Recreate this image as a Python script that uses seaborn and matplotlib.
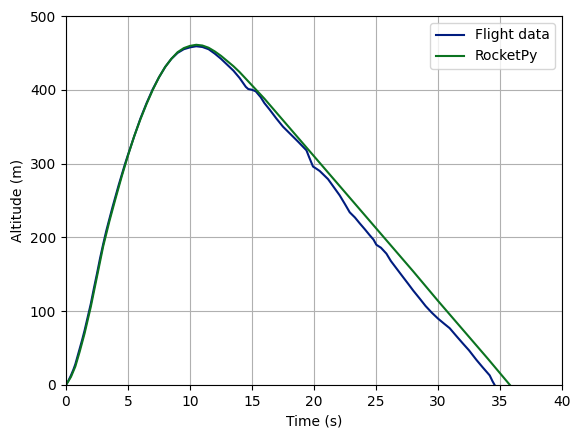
import matplotlib
matplotlib.use("Agg")
import matplotlib.pyplot as plt
import seaborn as sns
import pandas as pd

# Flight data
flight_time = [0, 0.2, 0.4, 0.6, 0.75, 0.9, 1.1, 1.3, 1.5, 1.75, 2.0, 2.25, 2.5, 2.75, 3.0,
               3.25, 3.5, 3.75, 4.0, 4.25, 4.5, 4.75, 5.0, 5.5, 6.0, 6.5, 7.0, 7.5, 8.0,
               8.5, 9.0, 9.5, 10.0, 10.5, 11.0, 11.5, 12.0, 12.5, 13.0, 13.5, 14.0, 14.5,
               14.7, 15.0, 15.3, 15.7, 16.0, 16.43, 16.97, 17.5, 18.04, 18.7, 19.39, 19.6,
               19.92, 20.2, 20.46, 21.13, 21.6, 22.07, 22.5, 22.88, 23.3, 23.69, 24.1,
               24.49, 24.8, 25.03, 25.4, 25.84, 26.2, 26.65, 27.1, 27.6, 28.0, 28.53,
               29.0, 29.5, 30.0, 30.5, 30.94, 31.5, 32.02, 32.5, 33.1, 33.6, 34.17,
               34.4, 34.57]
flight_alt = [0, 6, 13, 21, 28, 37, 49, 61, 74, 92, 110, 131, 151, 172, 191,
              209, 225, 241, 256, 271, 285, 299, 312, 337, 361, 382, 401, 417, 431,
              442, 450, 455, 457.5, 459, 458, 455, 449, 442, 434, 426, 416, 404,
              401, 400, 398, 390, 382, 373, 361, 350, 341, 330, 318, 309,
              296, 293, 290, 279, 268, 257, 245, 234, 227, 219, 211,
              203, 197, 190, 186, 178, 168, 158, 148, 137, 128, 117,
              107, 98, 90, 83, 77, 66, 56, 47, 34, 24, 13,
              5, 0]

# RocketPy simulation
sim_time = [0, 0.4, 0.75, 1.1, 1.5, 2.0, 2.5, 3.0, 3.5, 4.0, 4.5, 5.0, 5.5, 6.0, 6.5,
            7.0, 7.5, 8.0, 8.5, 9.0, 9.5, 10.0, 10.5, 11.0, 11.5, 12.0, 12.5, 13.0,
            13.5, 14.0, 14.5, 15.0, 15.5, 16.0, 18.0, 20.0, 22.0,
            24.0, 26.0, 28.0, 30.0, 32.0, 34.0, 35.8]
sim_alt = [0, 11, 25, 45, 70, 106, 147, 188, 222, 253, 283, 311, 337, 360, 381,
           400, 417, 431, 442, 451, 456.5, 459.5, 461, 460, 457, 452, 446, 439,
           432, 424, 415, 406, 397, 388, 349, 310, 271,
           232, 193, 154, 114, 75, 36, 0]

df = pd.concat([
    pd.DataFrame({"t": flight_time, "h": flight_alt, "src": "Flight data"}),
    pd.DataFrame({"t": sim_time, "h": sim_alt, "src": "RocketPy"}),
])

fig, ax = plt.subplots(figsize=(5.8, 4.38), dpi=100)
fig.subplots_adjust(left=66/580, right=562/580, top=1-16/438, bottom=1-385/438)

sns.lineplot(data=df, x="t", y="h", hue="src", sort=False, estimator=None,
             palette={"Flight data": "#001c7f", "RocketPy": "#0b7320"},
             linewidth=1.5, ax=ax)

ax.set_xlim(0, 40)
ax.set_ylim(0, 500)
ax.set_xlabel("Time (s)")
ax.set_ylabel("Altitude (m)")
ax.grid(True, color="#b0b0b0", linewidth=0.8)
ax.set_axisbelow(True)
ax.legend(title=None, loc="upper right")

fig.savefig("out.png", dpi=100)
